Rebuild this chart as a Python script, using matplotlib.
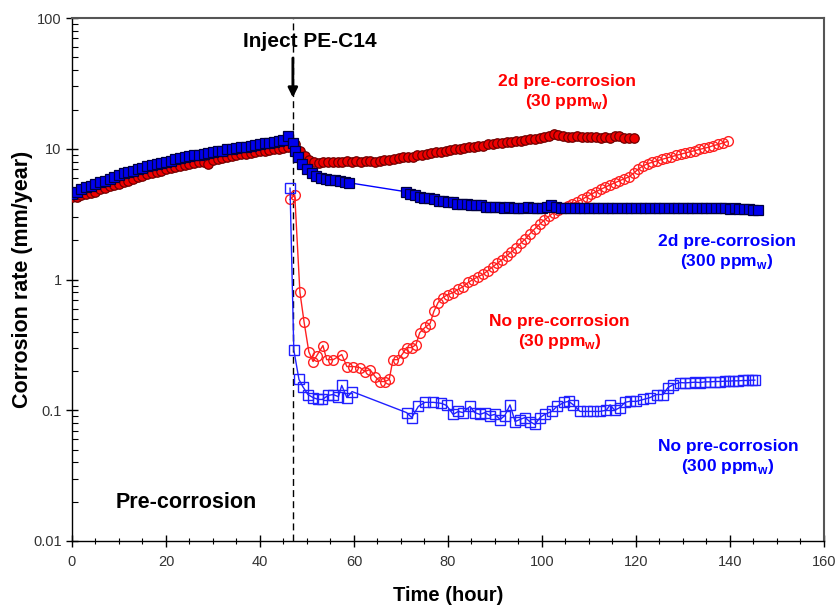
import numpy as np
import matplotlib
matplotlib.use('Agg')
from matplotlib import pyplot as plt
from matplotlib.ticker import LogLocator, NullFormatter, MultipleLocator, FixedLocator, FixedFormatter

plt.rcParams['font.family'] = ['Liberation Sans', 'DejaVu Sans']
plt.rcParams['mathtext.fontset'] = 'custom'
plt.rcParams['mathtext.bf'] = 'Liberation Sans:bold'
plt.rcParams['mathtext.rm'] = 'Liberation Sans'

# pre-corrosion stage (both 2d runs)
pre_t = list(range(0, 47))
pre_blue = [4.5, 4.7, 4.9, 5.1, 5.2, 5.4, 5.6, 5.7, 5.9, 6.1, 6.3, 6.5, 6.7, 6.8, 7.0, 7.2,
            7.4, 7.5, 7.7, 7.8, 8.0, 8.1, 8.3, 8.5, 8.6, 8.8, 8.9, 9.0, 9.2, 9.3, 9.5, 9.6,
            9.7, 9.9, 10.0, 10.1, 10.3, 10.4, 10.6, 10.7, 10.9, 11.0, 11.1, 11.3, 11.4, 11.6, 12.6]
pre_red = [4.3, 4.3, 4.4, 4.5, 4.6, 4.7, 4.9, 5.0, 5.2, 5.3, 5.4, 5.6, 5.7, 5.9, 6.1, 6.2,
           6.4, 6.5, 6.7, 6.8, 7.0, 7.1, 7.3, 7.4, 7.5, 7.7, 7.8, 7.9, 8.0, 7.7, 8.2, 8.4,
           8.5, 8.6, 8.8, 8.9, 9.1, 9.2, 9.3, 9.5, 9.6, 9.7, 9.8, 9.9, 10.0, 10.1, 10.4]

# 2d pre-corrosion, 30 ppmw, after injection
red2d_t = [47.5, 48.5, 49.5, 50.5, 51.5, 52.5, 53.5, 54.5, 55.5, 56.5, 57.5, 58.5, 59.5, 60.5,
           61.5, 62.5, 63.5, 64.5, 65.5, 66.5, 67.5, 68.5, 69.5, 70.5, 71.5, 72.5, 73.5, 74.5,
           75.5, 76.5, 77.5, 78.5, 79.5, 80.5, 81.5, 82.5, 83.5, 84.5, 85.5, 86.5, 87.5, 88.5,
           89.5, 90.5, 91.5, 92.5, 93.5, 94.5, 95.5, 96.5, 97.5, 98.5, 99.5, 100.5, 101.5,
           102.5, 103.5, 104.5, 105.5, 106.5, 107.5, 108.5, 109.5, 110.5, 111.5, 112.5, 113.5,
           114.5, 115.5, 116.5, 117.5, 118.5, 119.5]
red2d_v = [10.8, 9.6, 8.8, 8.2, 7.9, 7.8, 7.9, 7.9, 8.0, 7.9, 8.0, 8.1, 8.0, 8.1,
           8.0, 8.1, 8.1, 8.0, 8.1, 8.2, 8.2, 8.3, 8.5, 8.6, 8.6, 8.7, 8.9, 9.0,
           9.1, 9.3, 9.4, 9.5, 9.7, 9.8, 9.9, 10.0, 10.1, 10.3, 10.4, 10.5, 10.6, 10.8,
           10.9, 11.0, 11.1, 11.2, 11.3, 11.4, 11.5, 11.7, 11.8, 12.0, 12.2, 12.4, 12.6,
           12.9, 12.7, 12.5, 12.4, 12.4, 12.5, 12.4, 12.3, 12.4, 12.3, 12.2, 12.3,
           12.2, 12.6, 12.5, 12.2, 12.2, 12.2]

# 2d pre-corrosion, 300 ppmw, after injection
blue2d_t = [47, 47.5, 48, 49, 50, 51, 52, 53, 54, 55, 56, 57, 58, 59,
            71, 72, 73, 74, 75, 76, 77, 78, 79, 80, 81, 82, 83, 84, 85, 86, 87, 88, 89, 90,
            91, 92, 93, 94, 95, 96, 97, 98, 99, 100, 101, 102, 103, 104, 105, 106, 107, 108,
            109, 110, 111, 112, 113, 114, 115, 116, 117, 118, 119, 120, 121, 122, 123, 124,
            125, 126, 127, 128, 129, 130, 131, 132, 133, 134, 135, 136, 137, 138, 139, 140,
            141, 142, 143, 144, 145, 146]
blue2d_v = [11.0, 9.6, 8.6, 7.6, 7.0, 6.5, 6.2, 6.0, 5.9, 5.8, 5.8, 5.7, 5.6, 5.5,
            4.7, 4.5, 4.4, 4.3, 4.2, 4.2, 4.1, 4.0, 4.0, 3.9, 3.9, 3.8, 3.8, 3.8, 3.7, 3.7, 3.7, 3.6, 3.6, 3.6,
            3.6, 3.55, 3.6, 3.55, 3.5, 3.55, 3.6, 3.55, 3.5, 3.55, 3.6, 3.7, 3.6, 3.55, 3.55, 3.5, 3.55, 3.55,
            3.5, 3.55, 3.5, 3.55, 3.5, 3.55, 3.5, 3.5, 3.55, 3.5, 3.5, 3.55, 3.5, 3.5, 3.55, 3.5,
            3.5, 3.55, 3.5, 3.5, 3.5, 3.55, 3.5, 3.5, 3.55, 3.5, 3.5, 3.5, 3.55, 3.5, 3.5, 3.45,
            3.5, 3.45, 3.45, 3.45, 3.4, 3.4]

# no pre-corrosion, 30 ppmw
red0_t = [46.4, 47.4, 48.5, 49.4, 50.4, 51.3, 52.1, 53.4, 54.2, 55.6, 57.4, 58.5, 59.9, 61.3,
          62.3, 63.4, 64.5, 65.5, 66.6, 67.5, 68.3, 69.4, 70.4, 71.2, 72.3, 73.2, 74.0, 75.1,
          76.2, 77.0, 77.9, 78.9, 80.0, 81.1, 82.1, 83.2, 84.3, 85.3, 86.4, 87.5, 88.5, 89.5,
          90.5, 91.5, 92.5, 93.5, 94.5, 95.5, 96.5, 97.5, 98.5, 99.5, 100.5, 101.5, 102.5,
          103.5, 104.5, 105.5, 106.5, 107.5, 108.5, 109.5, 110.5, 111.5, 112.5, 113.5, 114.5,
          115.5, 116.5, 117.5, 118.5, 119.5, 120.5, 121.5, 122.5, 123.5, 124.5, 125.5, 126.5,
          127.5, 128.5, 129.5, 130.5, 131.5, 132.5, 133.5, 134.5, 135.5, 136.5, 137.5, 138.5, 139.5]
red0_v = [4.1, 4.45, 0.80, 0.47, 0.28, 0.236, 0.262, 0.313, 0.244, 0.244, 0.267, 0.216, 0.216, 0.212,
          0.198, 0.205, 0.181, 0.166, 0.166, 0.172, 0.244, 0.244, 0.272, 0.302, 0.302, 0.318, 0.393, 0.43,
          0.461, 0.57, 0.667, 0.728, 0.768, 0.795, 0.84, 0.88, 0.95, 1.0, 1.05, 1.1, 1.17, 1.25,
          1.33, 1.42, 1.52, 1.63, 1.75, 1.9, 2.05, 2.25, 2.45, 2.65, 2.85, 3.05, 3.25,
          3.4, 3.55, 3.65, 3.8, 3.95, 4.1, 4.3, 4.5, 4.7, 4.9, 5.1, 5.3,
          5.5, 5.7, 5.9, 6.1, 6.5, 7.0, 7.4, 7.7, 7.9, 8.1, 8.3, 8.5,
          8.7, 8.9, 9.1, 9.3, 9.5, 9.7, 9.9, 10.1, 10.3, 10.6, 10.8, 11.1, 11.4]

# no pre-corrosion, 300 ppmw
blue0_t = [46.4, 47.2, 48.3, 49.1, 50.2, 51.3, 52.4, 53.3, 54.5, 55.6, 56.7, 57.4, 58.5, 59.6,
           71.2, 72.3, 73.7, 75.1, 76.9, 78.6, 79.7, 81.1, 82.2, 83.2, 84.7, 85.7, 86.8, 87.9,
           88.9, 90.0, 91.1, 92.1, 93.2, 94.3, 95.3, 96.4, 97.4, 98.5, 99.6, 100.6, 102.1, 103.2,
           104.7, 105.7, 106.7, 108.1, 109.5, 110.9, 112.3, 113.7, 114.5, 115.5, 116.6, 117.7,
           118.7, 120.1, 121.6, 123.0, 124.4, 125.8, 126.8, 127.9, 129.4, 130.5, 131.5, 132.6,
           133.6, 134.7, 135.7, 136.8, 137.9, 138.9, 139.8, 140.7, 141.8, 142.8, 143.8, 144.6, 145.3]
blue0_v = [5.0, 0.29, 0.172, 0.152, 0.132, 0.125, 0.121, 0.121, 0.130, 0.132, 0.127, 0.155, 0.125, 0.139,
           0.096, 0.088, 0.107, 0.115, 0.115, 0.113, 0.109, 0.093, 0.098, 0.096, 0.107, 0.096, 0.093, 0.096,
           0.091, 0.093, 0.085, 0.091, 0.11, 0.082, 0.085, 0.088, 0.082, 0.078, 0.088, 0.093, 0.098, 0.107,
           0.115, 0.117, 0.11, 0.098, 0.098, 0.098, 0.098, 0.10, 0.11, 0.10, 0.105, 0.115,
           0.117, 0.117, 0.121, 0.125, 0.132, 0.132, 0.149, 0.157, 0.163, 0.162, 0.163, 0.164,
           0.163, 0.165, 0.165, 0.166, 0.166, 0.167, 0.167, 0.168, 0.168, 0.169, 0.169, 0.17, 0.17]

inject_t = 47

fig = plt.figure(figsize=(8.39, 6.05), dpi=100)
ax = fig.add_axes([0.0858, 0.1058, 0.8962, 0.8642])

# open-marker series (no pre-corrosion)
ax.plot(red0_t, red0_v, color='#ff2020', lw=1, marker='o', ms=7, mfc='none',
        mec='#ff2020', mew=1, zorder=3)
ax.plot(blue0_t, blue0_v, color='#2020ff', lw=1, marker='s', ms=7, mfc='none',
        mec='#2020ff', mew=1, zorder=3)

# filled series (2d pre-corrosion)
ax.plot(pre_t + red2d_t, pre_red + red2d_v, color='#ee0000', lw=1, marker='o', ms=6.8,
        mfc='#ee0000', mec='#700000', mew=0.9, zorder=4)
ax.plot(pre_t + blue2d_t, pre_blue + blue2d_v, color='#0000ff', lw=1, marker='s', ms=6.8,
        mfc='#0000ee', mec='#000040', mew=0.9, zorder=5)

ax.axvline(inject_t, color='black', lw=1, ls=(0, (5, 3)), zorder=2)
ax.annotate('', xy=(inject_t, 23.5), xytext=(inject_t, 52),
            arrowprops=dict(arrowstyle='-|>', color='black', lw=2, mutation_scale=14))

ax.set_yscale('log')
ax.set_xlim(0, 160)
ax.set_ylim(0.01, 100)

ax.xaxis.set_major_locator(MultipleLocator(20))
ax.xaxis.set_minor_locator(MultipleLocator(5))
ax.yaxis.set_major_locator(FixedLocator([0.01, 0.1, 1, 10, 100]))
ax.yaxis.set_major_formatter(FixedFormatter(['0.01', '0.1', '1', '10', '100']))
ax.yaxis.set_minor_locator(LogLocator(base=10, subs=np.arange(2, 10)))
ax.yaxis.set_minor_formatter(NullFormatter())

ax.tick_params(axis='x', which='major', direction='inout', length=8, width=1, labelsize=10.5,
               labelcolor='#333333', pad=6)
ax.tick_params(axis='x', which='minor', direction='inout', length=5, width=0.8)
ax.tick_params(axis='y', which='major', direction='inout', length=8, width=1, labelsize=10.5,
               labelcolor='#333333')
ax.tick_params(axis='y', which='minor', direction='in', length=4, width=0.8)

for s in ['top', 'right']:
    ax.spines[s].set_color('#555555')
    ax.spines[s].set_linewidth(1.5)
for s in ['left', 'bottom']:
    ax.spines[s].set_color('black')
    ax.spines[s].set_linewidth(1)

ax.set_xlabel('Time (hour)', fontsize=14.5, fontweight='bold', labelpad=12)
ax.set_ylabel('Corrosion rate (mm/year)', fontsize=15.5, fontweight='bold')
ax.yaxis.set_label_coords(-0.052, 0.5)

tk = dict(ha='center', va='center', fontsize=12.5, fontweight='bold', multialignment='center')
ax.text(50.6, 66, 'Inject PE-C14', color='black', ha='center', va='center', fontsize=15,
        fontweight='bold')
ax.text(105.3, 26.9, '2d pre-corrosion\n(30 ppm$_\\mathbf{w}$)', color='#ff0000', **tk)
ax.text(139.4, 1.61, '2d pre-corrosion\n(300 ppm$_\\mathbf{w}$)', color='#0000ff', **tk)
ax.text(103.8, 0.393, 'No pre-corrosion\n(30 ppm$_\\mathbf{w}$)', color='#ff0000', **tk)
ax.text(139.6, 0.0435, 'No pre-corrosion\n(300 ppm$_\\mathbf{w}$)', color='#0000ff', **tk)
ax.text(24.3, 0.0197, 'Pre-corrosion', color='black', ha='center', va='center', fontsize=15.5,
        fontweight='bold')

plt.savefig('out.png', dpi=100)
